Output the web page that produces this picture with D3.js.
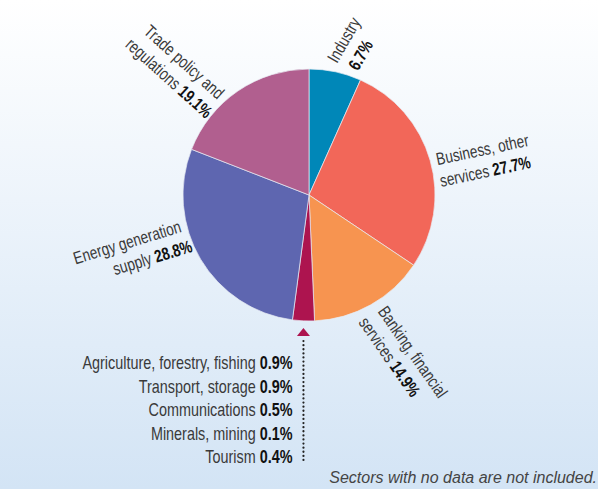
<!DOCTYPE html>
<meta charset="utf-8">
<style>
body { margin: 0; }
text { font-family: "Liberation Sans", Arial, sans-serif; fill: #3a3a3a; }
.pct { font-weight: bold; fill: #111; }
.note { font-style: italic; fill: #444; }
</style>
<svg width="598" height="489"></svg>
<script src="https://cdn.jsdelivr.net/npm/d3@7"></script>
<script>
// main sectors, clockwise from 12 o'clock
var sectors = ["Industry", "Business, other services", "Banking, financial services", "Other", "Energy generation supply", "Trade policy and regulations"];
var shares = [6.7, 27.7, 14.9, null, 28.8, 19.1];
var colors = ["#0087b8", "#f26759", "#f79450", "#ad144f", "#5e66b0", "#b15f8f"];

// small sectors, drawn together as one slice
var smallSectors = ["Agriculture, forestry, fishing", "Transport, storage", "Communications", "Minerals, mining", "Tourism"];
var smallShares = [0.9, 0.9, 0.5, 0.1, 0.4];

// label lines for each big slice (text, bold part)
var labelLines = [
  [["Industry", ""], ["", "6.7%"]],
  [["Business, other", ""], ["services ", "27.7%"]],
  [["Banking, financial", ""], ["services ", "14.9%"]],
  null,
  [["Energy generation", ""], ["supply ", "28.8%"]],
  [["Trade policy and", ""], ["regulations ", "19.1%"]]
];

var narrow = 0.78; // condensed look

var svg = d3.select("svg"),
    width = +svg.attr("width"),
    height = +svg.attr("height");

var grad = svg.append("defs").append("linearGradient")
    .attr("id", "bg").attr("x1", 0).attr("y1", 0).attr("x2", 0).attr("y2", 1);
grad.append("stop").attr("offset", "0%").attr("stop-color", "#ffffff");
grad.append("stop").attr("offset", "100%").attr("stop-color", "#d3e4f5");
svg.append("rect").attr("width", width).attr("height", height).attr("fill", "url(#bg)");

var cx = 309, cy = 195, radius = 126;

var values = shares.map(function(d) { return d == null ? d3.sum(smallShares) : d; });

var pie = d3.pie().sort(null).value(function(d) { return d; });
var arcs = pie(values);
var arc = d3.arc().innerRadius(0).outerRadius(radius);

var g = svg.append("g").attr("transform", "translate(" + cx + "," + cy + ")");

g.selectAll("path")
  .data(arcs)
  .enter().append("path")
    .attr("d", arc)
    .attr("fill", function(d, i) { return colors[i]; })
    .attr("stroke", "#e8ecf4")
    .attr("stroke-width", 0.7);

function polar(angle, r) {
  return [r * Math.sin(angle), -r * Math.cos(angle)];
}

function writeLine(sel, line) {
  if (line[0]) sel.append("tspan").text(line[0]);
  if (line[1]) sel.append("tspan").attr("class", "pct").text(line[1]);
}

// label placement: angle nudge (deg), radius, rotation, anchor, second line offset
var place = [
  {da: 0, r: 134, rot: -60, anchor: "start", x2: 4, dy: 22},
  {da: 3, r: 132, rot: -12, anchor: "start", x2: -1, dy: 22},
  {da: -1, r: 135, rot: 55, anchor: "start", x2: -2, dy: 22},
  null,
  {da: 14.4, r: 132, rot: -17, anchor: "end", x2: 5, dy: 22},
  {da: -9.6, r: 132, rot: 42, anchor: "end", x2: 4, dy: 22}
];

arcs.forEach(function(d, i) {
  if (!labelLines[i]) return;
  var p = place[i];
  var mid = (d.startAngle + d.endAngle) / 2 + p.da * Math.PI / 180;
  var pos = polar(mid, p.r);
  var lg = g.append("g")
      .attr("transform", "translate(" + pos[0] + "," + pos[1] + ") rotate(" + p.rot + ")");
  labelLines[i].forEach(function(line, j) {
    var t = lg.append("text")
        .attr("transform", "translate(" + (j ? p.x2 : 0) + "," + (j * p.dy) + ") scale(" + narrow + ",1)")
        .attr("text-anchor", p.anchor)
        .style("font-size", "17.5px");
    writeLine(t, line);
  });
});

// pointer to the small slice
var small = arcs[3];
var smid = (small.startAngle + small.endAngle) / 2;
var ax = polar(smid, radius)[0];
var ay = radius + 7;

g.append("path")
  .attr("d", "M" + ax + "," + ay + "l-6.5,8h13z")
  .attr("fill", "#ad144f");

g.append("line")
  .attr("x1", ax).attr("x2", ax)
  .attr("y1", ay + 13).attr("y2", ay + 135)
  .attr("stroke", "#222")
  .attr("stroke-width", 2.2)
  .attr("stroke-dasharray", "0.1 4")
  .attr("stroke-linecap", "round");

var y = d3.scalePoint().domain(smallSectors).range([369, 463]);

svg.selectAll(".small")
  .data(smallSectors)
  .enter().append("text")
    .attr("class", "small")
    .attr("transform", function(d) { return "translate(" + (cx + ax - 11) + "," + y(d) + ") scale(0.8,1)"; })
    .attr("text-anchor", "end")
    .style("font-size", "18px")
    .each(function(d, i) { writeLine(d3.select(this), [d + " ", smallShares[i] + "%"]); });

svg.append("text")
  .attr("class", "note")
  .attr("x", 597).attr("y", 483)
  .attr("text-anchor", "end")
  .style("font-size", "16px")
  .text("Sectors with no data are not included.");
</script>
